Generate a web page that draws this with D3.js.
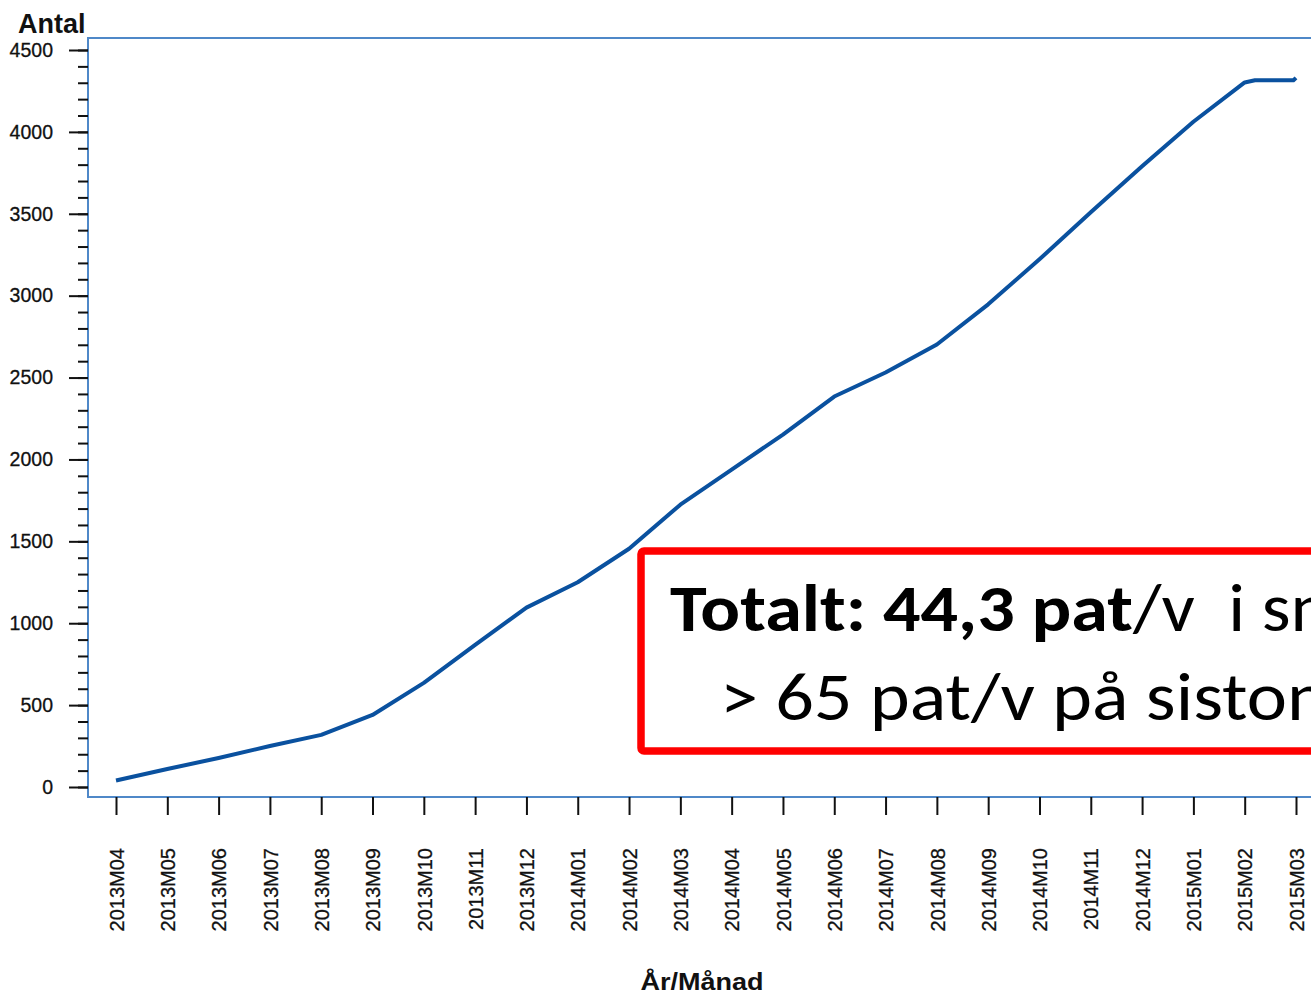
<!doctype html>
<html lang="sv">
<head>
  <meta charset="utf-8">
  <script src="https://d3js.org/d3.v7.min.js"></script>
  <style>
    body { margin: 0; background: #fff; }
    .tick text { font-family: "Liberation Sans", Arial, sans-serif; fill: #111; }
    .tick line { stroke: #111; stroke-width: 2; }
  </style>
</head>
<body>
  <script>
    // months on the x axis
    var months = ["2013M04","2013M05","2013M06","2013M07","2013M08","2013M09","2013M10","2013M11","2013M12",
                  "2014M01","2014M02","2014M03","2014M04","2014M05","2014M06","2014M07","2014M08","2014M09",
                  "2014M10","2014M11","2014M12","2015M01","2015M02","2015M03"];

    // cumulative number of patients (position = month index)
    var monthPos = [0, 1, 2, 3, 4, 5, 6, 7, 8, 9, 10, 11, 12, 13, 14, 15, 16, 17, 18, 19, 20, 21, 22, 22.2, 22.95, 23];
    var antal    = [40, 110, 177, 250, 318, 440, 636, 868, 1095, 1250, 1455, 1724, 1938, 2152, 2384, 2531, 2702,
                    2947, 3222, 3509, 3790, 4062, 4302, 4315, 4315, 4330];

    var yMajor = d3.range(0, 4501, 500);
    var yMinor = d3.range(0, 4501, 100);

    var width = 1311, height = 996;

    var svg = d3.select("body").append("svg")
        .attr("width", width)
        .attr("height", height);

    var x = d3.scaleLinear().domain([0, months.length - 1]).range([116, 1296]);
    var y = d3.scaleLinear().domain([0, 4500]).range([787, 50]);

    // plot frame (right side runs off the picture)
    svg.append("rect")
        .attr("x", 88).attr("y", 38)
        .attr("width", 1400).attr("height", 759)
        .attr("fill", "none")
        .attr("stroke", "#4f88c8")
        .attr("stroke-width", 2);

    // y axis: minor then major ticks
    svg.append("g")
        .attr("transform", "translate(88,0)")
        .call(d3.axisLeft(y).tickValues(yMinor).tickSize(10).tickFormat(""))
        .call(function(g){ g.select(".domain").remove(); });

    svg.append("g")
        .attr("transform", "translate(88,0)")
        .call(d3.axisLeft(y).tickValues(yMajor).tickSize(19).tickPadding(16).tickFormat(d3.format("d")))
        .call(function(g){ g.select(".domain").remove(); })
        .selectAll("text")
          .style("font-size", "19.5px")
          .style("stroke", "#111").style("stroke-width", 0.3);

    // x axis
    svg.append("g")
        .attr("transform", "translate(0,797)")
        .call(d3.axisBottom(x).tickValues(d3.range(months.length)).tickSize(18)
              .tickFormat(function(i){ return months[i]; }))
        .call(function(g){ g.select(".domain").remove(); })
        .selectAll("text")
          .style("font-size", "20px")
          .style("stroke", "#111").style("stroke-width", 0.3)
          .attr("transform", "rotate(-90)")
          .attr("text-anchor", "end")
          .attr("x", -51)
          .attr("y", 0)
          .attr("dy", "0.36em");

    // the line
    var points = monthPos.map(function(m, i){ return [m, antal[i]]; });
    svg.append("path")
        .datum(points)
        .attr("fill", "none")
        .attr("stroke", "#0a519f")
        .attr("stroke-width", 4)
        .attr("stroke-linejoin", "round")
        .attr("d", d3.line()
            .x(function(d){ return x(d[0]); })
            .y(function(d){ return y(d[1]); }));

    // axis titles
    svg.append("text")
        .attr("x", 18).attr("y", 33)
        .style("font-family", "'Liberation Sans', Arial, sans-serif")
        .style("font-weight", "bold")
        .style("font-size", "27px")
        .attr("fill", "#111")
        .text("Antal");

    svg.append("text")
        .attr("x", 702).attr("y", 990)
        .attr("text-anchor", "middle")
        .style("font-family", "'Liberation Sans', Arial, sans-serif")
        .style("font-weight", "bold")
        .style("font-size", "24px")
        .attr("textLength", 123)
        .attr("lengthAdjust", "spacingAndGlyphs")
        .attr("fill", "#111")
        .text("År/Månad");

    // red annotation box
    svg.append("rect")
        .attr("x", 641).attr("y", 551)
        .attr("width", 800).attr("height", 200)
        .attr("rx", 3)
        .attr("fill", "#fff")
        .attr("stroke", "#ff0000")
        .attr("stroke-width", 7.5);

    var noteFont = "Calibri, Carlito, Lato, 'Open Sans', sans-serif";

    svg.append("text")
        .attr("x", 670).attr("y", 631)
        .style("font-family", noteFont)
        .style("font-weight", "bold")
        .style("font-size", "67px")
        .attr("textLength", 463)
        .attr("lengthAdjust", "spacingAndGlyphs")
        .text("Totalt: 44,3 pat");

    svg.append("text")
        .attr("x", 1133).attr("y", 631)
        .style("font-family", noteFont)
        .style("font-size", "67px")
        .attr("textLength", 260)
        .attr("lengthAdjust", "spacingAndGlyphs")
        .style("white-space", "pre")
        .text("/v  i snitt");

    svg.append("text")
        .attr("x", 720).attr("y", 720)
        .style("font-family", noteFont)
        .style("font-size", "67px")
        .attr("textLength", 645)
        .attr("lengthAdjust", "spacingAndGlyphs")
        .text("> 65 pat/v på sistone");
  </script>
</body>
</html>
